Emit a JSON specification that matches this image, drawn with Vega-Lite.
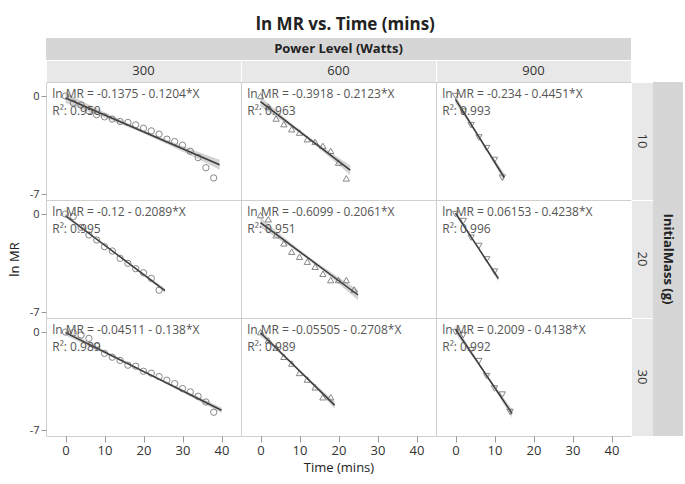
{
"$schema":"https://vega.github.io/schema/vega-lite/v6.json",
"background":"white",
"padding":{"left":7,"top":16,"right":1,"bottom":4},
"title":{"text":"ln MR vs. Time (mins)","fontSize":17,"fontWeight":"bold","color":"#222","anchor":"middle","offset":4},
"config":{"font":"Open Sans","view":{"stroke":"#cfcfcf"},"axis":{"labelColor":"#333","tickColor":"#999","titleColor":"#222","labelFont":"Open Sans","titleFont":"Open Sans","labelOverlap":false,"labelBound":false}},
"datasets":{"d":[
{"pw":300,"m":10,"k":"l","eq":"ln MR = -0.1375 - 0.1204*X","r2":"R²: 0.950"},
{"pw":600,"m":10,"k":"l","eq":"ln MR = -0.3918 - 0.2123*X","r2":"R²: 0.963"},
{"pw":900,"m":10,"k":"l","eq":"ln MR = -0.234 - 0.4451*X","r2":"R²: 0.993"},
{"pw":300,"m":20,"k":"l","eq":"ln MR = -0.12 - 0.2089*X","r2":"R²: 0.995"},
{"pw":600,"m":20,"k":"l","eq":"ln MR = -0.6099 - 0.2061*X","r2":"R²: 0.951"},
{"pw":900,"m":20,"k":"l","eq":"ln MR = 0.06153 - 0.4238*X","r2":"R²: 0.996"},
{"pw":300,"m":30,"k":"l","eq":"ln MR = -0.04511 - 0.138*X","r2":"R²: 0.989"},
{"pw":600,"m":30,"k":"l","eq":"ln MR = -0.05505 - 0.2708*X","r2":"R²: 0.989"},
{"pw":900,"m":30,"k":"l","eq":"ln MR = 0.2009 - 0.4138*X","r2":"R²: 0.992"},
{"pw":300,"m":10,"k":"f","t":0,"v":-0.1375},{"pw":300,"m":10,"k":"f","t":39.5,"v":-4.893},
{"pw":600,"m":10,"k":"f","t":0,"v":-0.3918},{"pw":600,"m":10,"k":"f","t":23,"v":-5.275},
{"pw":900,"m":10,"k":"f","t":0,"v":-0.234},{"pw":900,"m":10,"k":"f","t":12.5,"v":-5.798},
{"pw":300,"m":20,"k":"f","t":0,"v":-0.12},{"pw":300,"m":20,"k":"f","t":25.5,"v":-5.447},
{"pw":600,"m":20,"k":"f","t":0,"v":-0.6099},{"pw":600,"m":20,"k":"f","t":25,"v":-5.762},
{"pw":900,"m":20,"k":"f","t":0,"v":0.0615},{"pw":900,"m":20,"k":"f","t":11,"v":-4.6},
{"pw":300,"m":30,"k":"f","t":0,"v":-0.0451},{"pw":300,"m":30,"k":"f","t":40,"v":-5.565},
{"pw":600,"m":30,"k":"f","t":0,"v":-0.055},{"pw":600,"m":30,"k":"f","t":19,"v":-5.2},
{"pw":900,"m":30,"k":"f","t":0,"v":0.2009},{"pw":900,"m":30,"k":"f","t":14.5,"v":-5.799},
{"pw":300,"m":10,"k":"b","t":0,"v":-0.4875,"hi":0.2125},{"pw":300,"m":10,"k":"b","t":19.75,"v":-2.635,"hi":-2.395},{"pw":300,"m":10,"k":"b","t":39.5,"v":-5.243,"hi":-4.543},
{"pw":600,"m":10,"k":"b","t":0,"v":-0.742,"hi":-0.042},{"pw":600,"m":10,"k":"b","t":11.5,"v":-2.953,"hi":-2.713},{"pw":600,"m":10,"k":"b","t":23,"v":-5.625,"hi":-4.925},
{"pw":900,"m":10,"k":"b","t":0,"v":-0.534,"hi":0.066},{"pw":900,"m":10,"k":"b","t":6.25,"v":-3.116,"hi":-2.916},{"pw":900,"m":10,"k":"b","t":12.5,"v":-6.098,"hi":-5.498},
{"pw":300,"m":20,"k":"b","t":0,"v":-0.27,"hi":0.03},{"pw":300,"m":20,"k":"b","t":12.75,"v":-2.833,"hi":-2.733},{"pw":300,"m":20,"k":"b","t":25.5,"v":-5.597,"hi":-5.297},
{"pw":600,"m":20,"k":"b","t":0,"v":-0.96,"hi":-0.26},{"pw":600,"m":20,"k":"b","t":12.5,"v":-3.306,"hi":-3.066},{"pw":600,"m":20,"k":"b","t":25,"v":-6.112,"hi":-5.412},
{"pw":900,"m":20,"k":"b","t":0,"v":-0.1385,"hi":0.2615},{"pw":900,"m":20,"k":"b","t":5.5,"v":-2.339,"hi":-2.199},{"pw":900,"m":20,"k":"b","t":11,"v":-4.8,"hi":-4.4},
{"pw":300,"m":30,"k":"b","t":0,"v":-0.245,"hi":0.155},{"pw":300,"m":30,"k":"b","t":20,"v":-2.875,"hi":-2.735},{"pw":300,"m":30,"k":"b","t":40,"v":-5.765,"hi":-5.365},
{"pw":600,"m":30,"k":"b","t":0,"v":-0.305,"hi":0.195},{"pw":600,"m":30,"k":"b","t":9.5,"v":-2.708,"hi":-2.548},{"pw":600,"m":30,"k":"b","t":19,"v":-5.45,"hi":-4.95},
{"pw":900,"m":30,"k":"b","t":0,"v":-0.099,"hi":0.501},{"pw":900,"m":30,"k":"b","t":7.25,"v":-2.899,"hi":-2.699},{"pw":900,"m":30,"k":"b","t":14.5,"v":-6.099,"hi":-5.499},
{"pw":300,"m":10,"k":"p","t":0,"v":0},{"pw":300,"m":10,"k":"p","t":2,"v":-0.5},{"pw":300,"m":10,"k":"p","t":4,"v":-0.64},{"pw":300,"m":10,"k":"p","t":6,"v":-1.05},{"pw":300,"m":10,"k":"p","t":8,"v":-1.33},{"pw":300,"m":10,"k":"p","t":10,"v":-1.48},{"pw":300,"m":10,"k":"p","t":12,"v":-1.64},{"pw":300,"m":10,"k":"p","t":14,"v":-1.81},{"pw":300,"m":10,"k":"p","t":16,"v":-1.88},{"pw":300,"m":10,"k":"p","t":18,"v":-2.05},{"pw":300,"m":10,"k":"p","t":20,"v":-2.29},{"pw":300,"m":10,"k":"p","t":22,"v":-2.48},{"pw":300,"m":10,"k":"p","t":24,"v":-2.71},{"pw":300,"m":10,"k":"p","t":26,"v":-3.07},{"pw":300,"m":10,"k":"p","t":28,"v":-3.24},{"pw":300,"m":10,"k":"p","t":30,"v":-3.5},{"pw":300,"m":10,"k":"p","t":32,"v":-3.93},{"pw":300,"m":10,"k":"p","t":34,"v":-4.38},{"pw":300,"m":10,"k":"p","t":36,"v":-5.1},{"pw":300,"m":10,"k":"p","t":38,"v":-5.83},
{"pw":600,"m":10,"k":"p","t":0,"v":0},{"pw":600,"m":10,"k":"p","t":2,"v":-0.75},{"pw":600,"m":10,"k":"p","t":4,"v":-1.6},{"pw":600,"m":10,"k":"p","t":6,"v":-2.0},{"pw":600,"m":10,"k":"p","t":8,"v":-2.36},{"pw":600,"m":10,"k":"p","t":10,"v":-2.6},{"pw":600,"m":10,"k":"p","t":12,"v":-3.07},{"pw":600,"m":10,"k":"p","t":14,"v":-3.26},{"pw":600,"m":10,"k":"p","t":16,"v":-3.55},{"pw":600,"m":10,"k":"p","t":18,"v":-3.9},{"pw":600,"m":10,"k":"p","t":20,"v":-4.74},{"pw":600,"m":10,"k":"p","t":22,"v":-5.86},
{"pw":900,"m":10,"k":"p","t":0,"v":0},{"pw":900,"m":10,"k":"p","t":2,"v":-1.1},{"pw":900,"m":10,"k":"p","t":4,"v":-2.07},{"pw":900,"m":10,"k":"p","t":6,"v":-2.95},{"pw":900,"m":10,"k":"p","t":8,"v":-3.71},{"pw":900,"m":10,"k":"p","t":10,"v":-4.55},{"pw":900,"m":10,"k":"p","t":12,"v":-5.81},
{"pw":300,"m":20,"k":"p","t":0,"v":0},{"pw":300,"m":20,"k":"p","t":2,"v":-0.18},{"pw":300,"m":20,"k":"p","t":4,"v":-0.95},{"pw":300,"m":20,"k":"p","t":6,"v":-1.49},{"pw":300,"m":20,"k":"p","t":8,"v":-1.85},{"pw":300,"m":20,"k":"p","t":10,"v":-2.32},{"pw":300,"m":20,"k":"p","t":12,"v":-2.63},{"pw":300,"m":20,"k":"p","t":14,"v":-3.15},{"pw":300,"m":20,"k":"p","t":16,"v":-3.51},{"pw":300,"m":20,"k":"p","t":18,"v":-3.89},{"pw":300,"m":20,"k":"p","t":20,"v":-4.18},{"pw":300,"m":20,"k":"p","t":22,"v":-4.58},{"pw":300,"m":20,"k":"p","t":24,"v":-5.42},
{"pw":600,"m":20,"k":"p","t":0,"v":-0.08},{"pw":600,"m":20,"k":"p","t":2,"v":-0.37},{"pw":600,"m":20,"k":"p","t":4,"v":-1.51},{"pw":600,"m":20,"k":"p","t":6,"v":-2.08},{"pw":600,"m":20,"k":"p","t":8,"v":-2.68},{"pw":600,"m":20,"k":"p","t":10,"v":-3.04},{"pw":600,"m":20,"k":"p","t":12,"v":-3.39},{"pw":600,"m":20,"k":"p","t":14,"v":-3.75},{"pw":600,"m":20,"k":"p","t":16,"v":-4.25},{"pw":600,"m":20,"k":"p","t":18,"v":-4.7},{"pw":600,"m":20,"k":"p","t":20,"v":-4.7},{"pw":600,"m":20,"k":"p","t":22,"v":-4.7},{"pw":600,"m":20,"k":"p","t":24,"v":-5.37},
{"pw":900,"m":20,"k":"p","t":0,"v":0},{"pw":900,"m":20,"k":"p","t":2,"v":-0.5},{"pw":900,"m":20,"k":"p","t":4,"v":-1.68},{"pw":900,"m":20,"k":"p","t":6,"v":-2.27},{"pw":900,"m":20,"k":"p","t":8,"v":-3.23},{"pw":900,"m":20,"k":"p","t":10,"v":-4.1},
{"pw":300,"m":30,"k":"p","t":0,"v":0},{"pw":300,"m":30,"k":"p","t":2,"v":-0.05},{"pw":300,"m":30,"k":"p","t":4,"v":-0.21},{"pw":300,"m":30,"k":"p","t":6,"v":-0.45},{"pw":300,"m":30,"k":"p","t":8,"v":-1.0},{"pw":300,"m":30,"k":"p","t":10,"v":-1.52},{"pw":300,"m":30,"k":"p","t":12,"v":-1.79},{"pw":300,"m":30,"k":"p","t":14,"v":-2.02},{"pw":300,"m":30,"k":"p","t":16,"v":-2.36},{"pw":300,"m":30,"k":"p","t":18,"v":-2.43},{"pw":300,"m":30,"k":"p","t":20,"v":-2.79},{"pw":300,"m":30,"k":"p","t":22,"v":-2.93},{"pw":300,"m":30,"k":"p","t":24,"v":-3.17},{"pw":300,"m":30,"k":"p","t":26,"v":-3.43},{"pw":300,"m":30,"k":"p","t":28,"v":-3.67},{"pw":300,"m":30,"k":"p","t":30,"v":-4.02},{"pw":300,"m":30,"k":"p","t":32,"v":-4.26},{"pw":300,"m":30,"k":"p","t":34,"v":-4.57},{"pw":300,"m":30,"k":"p","t":36,"v":-4.98},{"pw":300,"m":30,"k":"p","t":38,"v":-5.71},
{"pw":600,"m":30,"k":"p","t":0,"v":0},{"pw":600,"m":30,"k":"p","t":2,"v":-0.6},{"pw":600,"m":30,"k":"p","t":4,"v":-1.1},{"pw":600,"m":30,"k":"p","t":6,"v":-1.76},{"pw":600,"m":30,"k":"p","t":8,"v":-2.24},{"pw":600,"m":30,"k":"p","t":10,"v":-2.91},{"pw":600,"m":30,"k":"p","t":12,"v":-3.38},{"pw":600,"m":30,"k":"p","t":14,"v":-3.93},{"pw":600,"m":30,"k":"p","t":16,"v":-4.64},{"pw":600,"m":30,"k":"p","t":18,"v":-4.64},
{"pw":900,"m":30,"k":"p","t":0,"v":0},{"pw":900,"m":30,"k":"p","t":2,"v":-0.21},{"pw":900,"m":30,"k":"p","t":4,"v":-1.3},{"pw":900,"m":30,"k":"p","t":6,"v":-2.07},{"pw":900,"m":30,"k":"p","t":8,"v":-3.14},{"pw":900,"m":30,"k":"p","t":10,"v":-4.02},{"pw":900,"m":30,"k":"p","t":12,"v":-4.45},{"pw":900,"m":30,"k":"p","t":14,"v":-5.69}
]},
"data":{"name":"d"},
"columns":5,
"spacing":0,
"bounds":"flush",
"align":"each",
"concat":[
{"width":195,"height":22,"data":{"values":[{"s":""}]},"view":{"fill":"#d6d6d6","stroke":null},"mark":{"type":"text"},"encoding":{"text":{"field":"s"}}},
{"width":195,"height":22,"data":{"values":[{"s":"Power Level (Watts)"}]},"view":{"fill":"#d6d6d6","stroke":null},"mark":{"type":"text","fontSize":13,"fontWeight":"bold","color":"#222","baseline":"middle"},"encoding":{"text":{"field":"s"}}},
{"width":195,"height":22,"data":{"values":[{"s":""}]},"view":{"fill":"#d6d6d6","stroke":null},"mark":{"type":"text"},"encoding":{"text":{"field":"s"}}},
{"width":22,"height":22,"data":{"values":[{"s":""}]},"view":{"stroke":null},"mark":{"type":"text"},"encoding":{"text":{"field":"s"}}},
{"width":30,"height":22,"data":{"values":[{"s":""}]},"view":{"stroke":null},"mark":{"type":"text"},"encoding":{"text":{"field":"s"}}},
{"width":195,"height":22,"data":{"values":[{"s":"300"}]},"view":{"fill":"#e8e8e8","stroke":"white"},"mark":{"type":"text","fontSize":13,"color":"#333","baseline":"middle"},"encoding":{"text":{"field":"s"}}},
{"width":195,"height":22,"data":{"values":[{"s":"600"}]},"view":{"fill":"#e8e8e8","stroke":"white"},"mark":{"type":"text","fontSize":13,"color":"#333","baseline":"middle"},"encoding":{"text":{"field":"s"}}},
{"width":195,"height":22,"data":{"values":[{"s":"900"}]},"view":{"fill":"#e8e8e8","stroke":"white"},"mark":{"type":"text","fontSize":13,"color":"#333","baseline":"middle"},"encoding":{"text":{"field":"s"}}},
{"width":22,"height":22,"data":{"values":[{"s":""}]},"view":{"stroke":null},"mark":{"type":"text"},"encoding":{"text":{"field":"s"}}},
{"width":30,"height":22,"data":{"values":[{"s":""}]},"view":{"stroke":null},"mark":{"type":"text"},"encoding":{"text":{"field":"s"}}},
{"width":195,"height":118,"transform":[{"filter":"datum.pw==300 && datum.m==10"}],"layer":[
  {"transform":[{"filter":"datum.k=='b'"}],"mark":{"type":"area","color":"#c8c8c8","opacity":0.8,"interpolate":"monotone"},"encoding":{"x":{"field":"t","type":"quantitative","scale":{"domain":[-5,45],"nice":false,"zero":false},"axis":null},"y":{"field":"v","type":"quantitative","scale":{"domain":[-7.4,1],"nice":false,"zero":false},"axis":{"values":[-7,-6,-5,-4,-3,-2,-1,0],"labelExpr":"datum.value == -6 ? '' : '' + datum.value","labelOverlap":false,"tickSize":5,"grid":false,"domain":false,"labelFontSize":11,"title":"ln MR","titleColor":"white","titleFontSize":13,"titleFontWeight":"normal","titlePadding":8}},"y2":{"field":"hi"}}},
  {"transform":[{"filter":"datum.k=='f'"}],"mark":{"type":"line","color":"#3a3a3a","strokeWidth":1.5},"encoding":{"x":{"field":"t","type":"quantitative","axis":null},"y":{"field":"v","type":"quantitative","title":null,"axis":{"labelOverlap":false}}}},
  {"transform":[{"filter":"datum.k=='p'"}],"mark":{"type":"point","shape":"circle","filled":false,"color":"#555","size":40,"strokeWidth":1},"encoding":{"x":{"field":"t","type":"quantitative","axis":null},"y":{"field":"v","type":"quantitative","title":null,"axis":{"labelOverlap":false}}}},
  {"transform":[{"filter":"datum.k=='l'"}],"mark":{"type":"text","align":"left","baseline":"middle","fontSize":12,"color":"#555"},"encoding":{"x":{"datum":-3.4,"type":"quantitative","axis":null},"y":{"datum":0.14,"type":"quantitative","title":null,"axis":{"labelOverlap":false}},"text":{"field":"eq"}}},
  {"transform":[{"filter":"datum.k=='l'"}],"mark":{"type":"text","align":"left","baseline":"middle","fontSize":12,"color":"#555"},"encoding":{"x":{"datum":-3.4,"type":"quantitative","axis":null},"y":{"datum":-1.05,"type":"quantitative","title":null,"axis":{"labelOverlap":false}},"text":{"field":"r2"}}}
 ]},
{"width":195,"height":118,"transform":[{"filter":"datum.pw==600 && datum.m==10"}],"layer":[
  {"transform":[{"filter":"datum.k=='b'"}],"mark":{"type":"area","color":"#c8c8c8","opacity":0.8,"interpolate":"monotone"},"encoding":{"x":{"field":"t","type":"quantitative","scale":{"domain":[-5,45],"nice":false,"zero":false},"axis":null},"y":{"field":"v","type":"quantitative","scale":{"domain":[-7.4,1],"nice":false,"zero":false},"axis":null},"y2":{"field":"hi"}}},
  {"transform":[{"filter":"datum.k=='f'"}],"mark":{"type":"line","color":"#3a3a3a","strokeWidth":1.5},"encoding":{"x":{"field":"t","type":"quantitative","axis":null},"y":{"field":"v","type":"quantitative","axis":null}}},
  {"transform":[{"filter":"datum.k=='p'"}],"mark":{"type":"point","shape":"triangle-up","filled":false,"color":"#555","size":40,"strokeWidth":1},"encoding":{"x":{"field":"t","type":"quantitative","axis":null},"y":{"field":"v","type":"quantitative","axis":null}}},
  {"transform":[{"filter":"datum.k=='l'"}],"mark":{"type":"text","align":"left","baseline":"middle","fontSize":12,"color":"#555"},"encoding":{"x":{"datum":-3.4,"type":"quantitative","axis":null},"y":{"datum":0.14,"type":"quantitative","axis":null},"text":{"field":"eq"}}},
  {"transform":[{"filter":"datum.k=='l'"}],"mark":{"type":"text","align":"left","baseline":"middle","fontSize":12,"color":"#555"},"encoding":{"x":{"datum":-3.4,"type":"quantitative","axis":null},"y":{"datum":-1.05,"type":"quantitative","axis":null},"text":{"field":"r2"}}}
 ]},
{"width":195,"height":118,"transform":[{"filter":"datum.pw==900 && datum.m==10"}],"layer":[
  {"transform":[{"filter":"datum.k=='b'"}],"mark":{"type":"area","color":"#c8c8c8","opacity":0.8,"interpolate":"monotone"},"encoding":{"x":{"field":"t","type":"quantitative","scale":{"domain":[-5,45],"nice":false,"zero":false},"axis":null},"y":{"field":"v","type":"quantitative","scale":{"domain":[-7.4,1],"nice":false,"zero":false},"axis":null},"y2":{"field":"hi"}}},
  {"transform":[{"filter":"datum.k=='f'"}],"mark":{"type":"line","color":"#3a3a3a","strokeWidth":1.5},"encoding":{"x":{"field":"t","type":"quantitative","axis":null},"y":{"field":"v","type":"quantitative","axis":null}}},
  {"transform":[{"filter":"datum.k=='p'"}],"mark":{"type":"point","shape":"triangle-down","filled":false,"color":"#555","size":40,"strokeWidth":1},"encoding":{"x":{"field":"t","type":"quantitative","axis":null},"y":{"field":"v","type":"quantitative","axis":null}}},
  {"transform":[{"filter":"datum.k=='l'"}],"mark":{"type":"text","align":"left","baseline":"middle","fontSize":12,"color":"#555"},"encoding":{"x":{"datum":-3.4,"type":"quantitative","axis":null},"y":{"datum":0.14,"type":"quantitative","axis":null},"text":{"field":"eq"}}},
  {"transform":[{"filter":"datum.k=='l'"}],"mark":{"type":"text","align":"left","baseline":"middle","fontSize":12,"color":"#555"},"encoding":{"x":{"datum":-3.4,"type":"quantitative","axis":null},"y":{"datum":-1.05,"type":"quantitative","axis":null},"text":{"field":"r2"}}}
 ]},
{"width":22,"height":118,"data":{"values":[{"s":"10"}]},"view":{"fill":"#e8e8e8","stroke":"white"},"mark":{"type":"text","fontSize":13,"color":"#333","angle":90,"baseline":"middle"},"encoding":{"text":{"field":"s"}}},
{"width":30,"height":118,"data":{"values":[{"s":""}]},"view":{"fill":"#d6d6d6","stroke":null},"mark":{"type":"text","fontSize":13,"fontWeight":"bold","color":"#222","angle":90,"baseline":"middle"},"encoding":{"text":{"field":"s"}}},
{"width":195,"height":118,"transform":[{"filter":"datum.pw==300 && datum.m==20"}],"layer":[
  {"transform":[{"filter":"datum.k=='b'"}],"mark":{"type":"area","color":"#c8c8c8","opacity":0.8,"interpolate":"monotone"},"encoding":{"x":{"field":"t","type":"quantitative","scale":{"domain":[-5,45],"nice":false,"zero":false},"axis":null},"y":{"field":"v","type":"quantitative","scale":{"domain":[-7.4,1],"nice":false,"zero":false},"axis":{"values":[-7,-6,-5,-4,-3,-2,-1,0],"labelExpr":"datum.value == -6 ? '' : '' + datum.value","labelOverlap":false,"tickSize":5,"grid":false,"domain":false,"labelFontSize":11,"title":"ln MR","titleFontSize":13,"titleFontWeight":"normal","titlePadding":8}},"y2":{"field":"hi"}}},
  {"transform":[{"filter":"datum.k=='f'"}],"mark":{"type":"line","color":"#3a3a3a","strokeWidth":1.5},"encoding":{"x":{"field":"t","type":"quantitative","axis":null},"y":{"field":"v","type":"quantitative","axis":{"labelOverlap":false}}}},
  {"transform":[{"filter":"datum.k=='p'"}],"mark":{"type":"point","shape":"circle","filled":false,"color":"#555","size":40,"strokeWidth":1},"encoding":{"x":{"field":"t","type":"quantitative","axis":null},"y":{"field":"v","type":"quantitative","axis":{"labelOverlap":false}}}},
  {"transform":[{"filter":"datum.k=='l'"}],"mark":{"type":"text","align":"left","baseline":"middle","fontSize":12,"color":"#555"},"encoding":{"x":{"datum":-3.4,"type":"quantitative","axis":null},"y":{"datum":0.14,"type":"quantitative","axis":{"labelOverlap":false}},"text":{"field":"eq"}}},
  {"transform":[{"filter":"datum.k=='l'"}],"mark":{"type":"text","align":"left","baseline":"middle","fontSize":12,"color":"#555"},"encoding":{"x":{"datum":-3.4,"type":"quantitative","axis":null},"y":{"datum":-1.05,"type":"quantitative","axis":{"labelOverlap":false}},"text":{"field":"r2"}}}
 ]},
{"width":195,"height":118,"transform":[{"filter":"datum.pw==600 && datum.m==20"}],"layer":[
  {"transform":[{"filter":"datum.k=='b'"}],"mark":{"type":"area","color":"#c8c8c8","opacity":0.8,"interpolate":"monotone"},"encoding":{"x":{"field":"t","type":"quantitative","scale":{"domain":[-5,45],"nice":false,"zero":false},"axis":null},"y":{"field":"v","type":"quantitative","scale":{"domain":[-7.4,1],"nice":false,"zero":false},"axis":null},"y2":{"field":"hi"}}},
  {"transform":[{"filter":"datum.k=='f'"}],"mark":{"type":"line","color":"#3a3a3a","strokeWidth":1.5},"encoding":{"x":{"field":"t","type":"quantitative","axis":null},"y":{"field":"v","type":"quantitative","axis":null}}},
  {"transform":[{"filter":"datum.k=='p'"}],"mark":{"type":"point","shape":"triangle-up","filled":false,"color":"#555","size":40,"strokeWidth":1},"encoding":{"x":{"field":"t","type":"quantitative","axis":null},"y":{"field":"v","type":"quantitative","axis":null}}},
  {"transform":[{"filter":"datum.k=='l'"}],"mark":{"type":"text","align":"left","baseline":"middle","fontSize":12,"color":"#555"},"encoding":{"x":{"datum":-3.4,"type":"quantitative","axis":null},"y":{"datum":0.14,"type":"quantitative","axis":null},"text":{"field":"eq"}}},
  {"transform":[{"filter":"datum.k=='l'"}],"mark":{"type":"text","align":"left","baseline":"middle","fontSize":12,"color":"#555"},"encoding":{"x":{"datum":-3.4,"type":"quantitative","axis":null},"y":{"datum":-1.05,"type":"quantitative","axis":null},"text":{"field":"r2"}}}
 ]},
{"width":195,"height":118,"transform":[{"filter":"datum.pw==900 && datum.m==20"}],"layer":[
  {"transform":[{"filter":"datum.k=='b'"}],"mark":{"type":"area","color":"#c8c8c8","opacity":0.8,"interpolate":"monotone"},"encoding":{"x":{"field":"t","type":"quantitative","scale":{"domain":[-5,45],"nice":false,"zero":false},"axis":null},"y":{"field":"v","type":"quantitative","scale":{"domain":[-7.4,1],"nice":false,"zero":false},"axis":null},"y2":{"field":"hi"}}},
  {"transform":[{"filter":"datum.k=='f'"}],"mark":{"type":"line","color":"#3a3a3a","strokeWidth":1.5},"encoding":{"x":{"field":"t","type":"quantitative","axis":null},"y":{"field":"v","type":"quantitative","axis":null}}},
  {"transform":[{"filter":"datum.k=='p'"}],"mark":{"type":"point","shape":"triangle-down","filled":false,"color":"#555","size":40,"strokeWidth":1},"encoding":{"x":{"field":"t","type":"quantitative","axis":null},"y":{"field":"v","type":"quantitative","axis":null}}},
  {"transform":[{"filter":"datum.k=='l'"}],"mark":{"type":"text","align":"left","baseline":"middle","fontSize":12,"color":"#555"},"encoding":{"x":{"datum":-3.4,"type":"quantitative","axis":null},"y":{"datum":0.14,"type":"quantitative","axis":null},"text":{"field":"eq"}}},
  {"transform":[{"filter":"datum.k=='l'"}],"mark":{"type":"text","align":"left","baseline":"middle","fontSize":12,"color":"#555"},"encoding":{"x":{"datum":-3.4,"type":"quantitative","axis":null},"y":{"datum":-1.05,"type":"quantitative","axis":null},"text":{"field":"r2"}}}
 ]},
{"width":22,"height":118,"data":{"values":[{"s":"20"}]},"view":{"fill":"#e8e8e8","stroke":"white"},"mark":{"type":"text","fontSize":13,"color":"#333","angle":90,"baseline":"middle"},"encoding":{"text":{"field":"s"}}},
{"width":30,"height":118,"data":{"values":[{"s":"InitialMass (g)"}]},"view":{"fill":"#d6d6d6","stroke":null},"mark":{"type":"text","fontSize":13,"fontWeight":"bold","color":"#222","angle":90,"baseline":"middle"},"encoding":{"text":{"field":"s"}}},
{"width":195,"height":118,"transform":[{"filter":"datum.pw==300 && datum.m==30"}],"layer":[
  {"transform":[{"filter":"datum.k=='b'"}],"mark":{"type":"area","color":"#c8c8c8","opacity":0.8,"interpolate":"monotone"},"encoding":{"x":{"field":"t","type":"quantitative","scale":{"domain":[-5,45],"nice":false,"zero":false},"axis":{"values":[0,5,10,15,20,25,30,35,40],"labelExpr":"datum.value % 10 == 0 ? '' + datum.value : ''","labelOverlap":false,"tickSize":{"condition":{"test":"datum.value % 10 == 0","value":6},"value":3},"grid":false,"domain":false,"labelFontSize":13,"title":null}},"y":{"field":"v","type":"quantitative","scale":{"domain":[-7.4,1],"nice":false,"zero":false},"axis":{"values":[-7,-6,-5,-4,-3,-2,-1,0],"labelExpr":"datum.value == -6 ? '' : '' + datum.value","labelOverlap":false,"tickSize":5,"grid":false,"domain":false,"labelFontSize":11,"title":"ln MR","titleColor":"white","titleFontSize":13,"titleFontWeight":"normal","titlePadding":8}},"y2":{"field":"hi"}}},
  {"transform":[{"filter":"datum.k=='f'"}],"mark":{"type":"line","color":"#3a3a3a","strokeWidth":1.5},"encoding":{"x":{"field":"t","type":"quantitative","title":null},"y":{"field":"v","type":"quantitative","title":null,"axis":{"labelOverlap":false}}}},
  {"transform":[{"filter":"datum.k=='p'"}],"mark":{"type":"point","shape":"circle","filled":false,"color":"#555","size":40,"strokeWidth":1},"encoding":{"x":{"field":"t","type":"quantitative","title":null},"y":{"field":"v","type":"quantitative","title":null,"axis":{"labelOverlap":false}}}},
  {"transform":[{"filter":"datum.k=='l'"}],"mark":{"type":"text","align":"left","baseline":"middle","fontSize":12,"color":"#555"},"encoding":{"x":{"datum":-3.4,"type":"quantitative","title":null},"y":{"datum":0.14,"type":"quantitative","title":null,"axis":{"labelOverlap":false}},"text":{"field":"eq"}}},
  {"transform":[{"filter":"datum.k=='l'"}],"mark":{"type":"text","align":"left","baseline":"middle","fontSize":12,"color":"#555"},"encoding":{"x":{"datum":-3.4,"type":"quantitative","title":null},"y":{"datum":-1.05,"type":"quantitative","title":null,"axis":{"labelOverlap":false}},"text":{"field":"r2"}}}
 ]},
{"width":195,"height":118,"transform":[{"filter":"datum.pw==600 && datum.m==30"}],"layer":[
  {"transform":[{"filter":"datum.k=='b'"}],"mark":{"type":"area","color":"#c8c8c8","opacity":0.8,"interpolate":"monotone"},"encoding":{"x":{"field":"t","type":"quantitative","scale":{"domain":[-5,45],"nice":false,"zero":false},"axis":{"values":[0,5,10,15,20,25,30,35,40],"labelExpr":"datum.value % 10 == 0 ? '' + datum.value : ''","labelOverlap":false,"tickSize":{"condition":{"test":"datum.value % 10 == 0","value":6},"value":3},"grid":false,"domain":false,"labelFontSize":13,"title":"Time (mins)","titleFontSize":13,"titleFontWeight":"normal","titlePadding":4}},"y":{"field":"v","type":"quantitative","scale":{"domain":[-7.4,1],"nice":false,"zero":false},"axis":null},"y2":{"field":"hi"}}},
  {"transform":[{"filter":"datum.k=='f'"}],"mark":{"type":"line","color":"#3a3a3a","strokeWidth":1.5},"encoding":{"x":{"field":"t","type":"quantitative"},"y":{"field":"v","type":"quantitative","axis":null}}},
  {"transform":[{"filter":"datum.k=='p'"}],"mark":{"type":"point","shape":"triangle-up","filled":false,"color":"#555","size":40,"strokeWidth":1},"encoding":{"x":{"field":"t","type":"quantitative"},"y":{"field":"v","type":"quantitative","axis":null}}},
  {"transform":[{"filter":"datum.k=='l'"}],"mark":{"type":"text","align":"left","baseline":"middle","fontSize":12,"color":"#555"},"encoding":{"x":{"datum":-3.4,"type":"quantitative"},"y":{"datum":0.14,"type":"quantitative","axis":null},"text":{"field":"eq"}}},
  {"transform":[{"filter":"datum.k=='l'"}],"mark":{"type":"text","align":"left","baseline":"middle","fontSize":12,"color":"#555"},"encoding":{"x":{"datum":-3.4,"type":"quantitative"},"y":{"datum":-1.05,"type":"quantitative","axis":null},"text":{"field":"r2"}}}
 ]},
{"width":195,"height":118,"transform":[{"filter":"datum.pw==900 && datum.m==30"}],"layer":[
  {"transform":[{"filter":"datum.k=='b'"}],"mark":{"type":"area","color":"#c8c8c8","opacity":0.8,"interpolate":"monotone"},"encoding":{"x":{"field":"t","type":"quantitative","scale":{"domain":[-5,45],"nice":false,"zero":false},"axis":{"values":[0,5,10,15,20,25,30,35,40],"labelExpr":"datum.value % 10 == 0 ? '' + datum.value : ''","labelOverlap":false,"tickSize":{"condition":{"test":"datum.value % 10 == 0","value":6},"value":3},"grid":false,"domain":false,"labelFontSize":13,"title":null}},"y":{"field":"v","type":"quantitative","scale":{"domain":[-7.4,1],"nice":false,"zero":false},"axis":null},"y2":{"field":"hi"}}},
  {"transform":[{"filter":"datum.k=='f'"}],"mark":{"type":"line","color":"#3a3a3a","strokeWidth":1.5},"encoding":{"x":{"field":"t","type":"quantitative","title":null},"y":{"field":"v","type":"quantitative","axis":null}}},
  {"transform":[{"filter":"datum.k=='p'"}],"mark":{"type":"point","shape":"triangle-down","filled":false,"color":"#555","size":40,"strokeWidth":1},"encoding":{"x":{"field":"t","type":"quantitative","title":null},"y":{"field":"v","type":"quantitative","axis":null}}},
  {"transform":[{"filter":"datum.k=='l'"}],"mark":{"type":"text","align":"left","baseline":"middle","fontSize":12,"color":"#555"},"encoding":{"x":{"datum":-3.4,"type":"quantitative","title":null},"y":{"datum":0.14,"type":"quantitative","axis":null},"text":{"field":"eq"}}},
  {"transform":[{"filter":"datum.k=='l'"}],"mark":{"type":"text","align":"left","baseline":"middle","fontSize":12,"color":"#555"},"encoding":{"x":{"datum":-3.4,"type":"quantitative","title":null},"y":{"datum":-1.05,"type":"quantitative","axis":null},"text":{"field":"r2"}}}
 ]},
{"width":22,"height":118,"data":{"values":[{"s":"30"}]},"view":{"fill":"#e8e8e8","stroke":"white"},"mark":{"type":"text","fontSize":13,"color":"#333","angle":90,"baseline":"middle"},"encoding":{"text":{"field":"s"}}},
{"width":30,"height":118,"data":{"values":[{"s":""}]},"view":{"fill":"#d6d6d6","stroke":null},"mark":{"type":"text","fontSize":13,"fontWeight":"bold","color":"#222","angle":90,"baseline":"middle"},"encoding":{"text":{"field":"s"}}}
]
}
